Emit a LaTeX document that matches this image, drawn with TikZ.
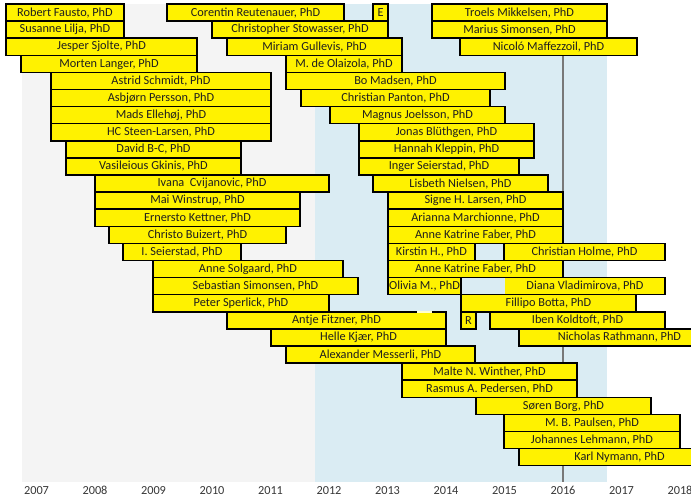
\documentclass[tikz,border=0pt]{standalone}
\usepackage{fontspec}
\setmainfont[Numbers=Lining]{Carlito}
\definecolor{periodgray}{RGB}{244,244,244}
\definecolor{periodblue}{RGB}{218,236,243}
\definecolor{bartext}{RGB}{30,30,30}
\definecolor{yeartext}{RGB}{55,55,55}
\definecolor{markline}{RGB}{120,120,120}
\definecolor{borderpale}{RGB}{255,255,205}
\tikzset{
  phd/.style={draw=black, fill=yellow, line width=1.5pt, inner sep=0pt, outer sep=0pt,
    minimum height=17.1pt, anchor=west, text=bartext,
    font=\fontsize{12.3}{14}\selectfont},
  phdframe/.style={draw=black, line width=1.5pt},
  year/.style={text=yeartext, font=\fontsize{12.3}{14}\selectfont, inner sep=0pt, anchor=base}
}
% \phdbar{name}{row}{left x}{right x}{label}
\newcommand\phdbar[5]{%
  \node[phd, minimum width={(#4-#3)*1pt}] (#1) at ({#3},{4+(#2-0.5)*17.1}) {#5};}
\begin{document}
\begin{tikzpicture}[x=1pt,y=-1pt]
\useasboundingbox (0,0) rectangle (691,499);
\clip (0,0) rectangle (691,499);
\fill[white] (0,0) rectangle (691,499);
% shaded periods
\fill[periodgray] (22,4) rectangle (315,482);
\fill[periodblue] (315,4) rectangle (607,482);
% 2016 marker
\draw[markline, line width=1.4pt] (563,56) -- (563,482);

% row 1
\phdbar{fausto}{1}{6}{124}{Robert Fausto, PhD}
\phdbar{reutenauer}{1}{167}{344}{Corentin Reutenauer, PhD}
\phdbar{e}{1}{373}{388}{E}
\phdbar{mikkelsen}{1}{432}{607}{Troels Mikkelsen, PhD}
% row 2
\phdbar{lilja}{2}{6}{124}{Susanne Lilja, PhD}
\phdbar{stowasser}{2}{212}{388}{Christopher Stowasser, PhD}
\phdbar{msimonsen}{2}{432}{607}{Marius Simonsen, PhD}
% row 3
\phdbar{sjolte}{3}{6}{197}{Jesper Sjolte, PhD}
\phdbar{gullevis}{3}{227}{402}{Miriam Gullevis, PhD}
\phdbar{maffezzoil}{3}{460}{637}{Nicoló Maffezzoil, PhD}
% row 4
\phdbar{langer}{4}{21}{197}{Morten Langer, PhD}
\phdbar{olaizola}{4}{286}{402}{M. de Olaizola, PhD}
% row 5
\phdbar{schmidt}{5}{51}{271}{Astrid Schmidt, PhD}
\phdbar{madsen}{5}{286}{505}{Bo Madsen, PhD}
% row 6
\phdbar{persson}{6}{51}{271}{Asbjørn Persson, PhD}
\phdbar{panton}{6}{301}{490}{Christian Panton, PhD}
% row 7
\phdbar{ellehoj}{7}{51}{271}{Mads Ellehøj, PhD}
\phdbar{joelsson}{7}{330}{505}{Magnus Joelsson, PhD}
% row 8
\phdbar{steenlarsen}{8}{51}{271}{HC Steen-Larsen, PhD}
\phdbar{bluthgen}{8}{359}{534}{Jonas Blüthgen, PhD}
% row 9
\phdbar{bc}{9}{66}{241}{David B-C, PhD}
\phdbar{kleppin}{9}{359}{534}{Hannah Kleppin, PhD}
% row 10
\phdbar{gkinis}{10}{66}{241}{Vasileious Gkinis, PhD}
\phdbar{ingerseierstad}{10}{359}{519}{Inger Seierstad, PhD}
% row 11
\phdbar{cvijanovic}{11}{95}{329}{Ivana\ \ Cvijanovic, PhD}
\phdbar{lnielsen}{11}{373}{548}{Lisbeth Nielsen, PhD}
% row 12
\phdbar{winstrup}{12}{95}{300}{Mai Winstrup, PhD}
\phdbar{slarsen}{12}{388}{563}{Signe H. Larsen, PhD}
% row 13
\phdbar{kettner}{13}{95}{300}{Ernersto Kettner, PhD}
\phdbar{marchionne}{13}{388}{563}{Arianna Marchionne, PhD}
% row 14
\phdbar{buizert}{14}{109}{286}{Christo Buizert, PhD}
\phdbar{faber}{14}{388}{563}{Anne Katrine Faber, PhD}
% row 15
\phdbar{iseierstad}{15}{123}{241}{I. Seierstad, PhD}
\phdbar{kirstin}{15}{388}{475}{Kirstin H., PhD}
\phdbar{holme}{15}{504}{665}{Christian Holme, PhD}
% row 16
\phdbar{solgaard}{16}{153}{343}{Anne Solgaard, PhD}
\phdbar{fabertwo}{16}{388}{563}{Anne Katrine Faber, PhD}
% row 17
\phdbar{ssimonsen}{17}{153}{358}{Sebastian Simonsen, PhD}
\phdbar{olivia}{17}{388}{461}{Olivia M., PhD}
\node[phd, draw=none, minimum width=160pt] (diana) at (505,{4+16.5*17.1}) {Diana Vladimirova, PhD};
\draw[phdframe] (olivia.north east) -- (diana.north east) -- (diana.south east) -- (olivia.south east);
% row 18
\phdbar{sperlick}{18}{153}{329}{Peter Sperlick, PhD}
\phdbar{botta}{18}{461}{636}{Fillipo Botta, PhD}
% row 19
\phdbar{fitzner}{19}{227}{446}{Antje Fitzner, PhD}
\phdbar{r}{19}{461}{476}{R}
\phdbar{koldtoft}{19}{490}{665}{Iben Koldtoft, PhD}
\draw[borderpale, line width=1.5pt] ([xshift=190pt]fitzner.north west) -- ([xshift=205pt]fitzner.north west);
% row 20
\phdbar{kjaer}{20}{271}{446}{Helle Kjær, PhD}
\phdbar{rathmann}{20}{519}{720}{Nicholas Rathmann, PhD}
% row 21
\phdbar{messerli}{21}{286}{475}{Alexander Messerli, PhD}
% rows 22-27
\phdbar{winther}{22}{402}{577}{Malte N. Winther, PhD}
\phdbar{pedersen}{23}{402}{577}{Rasmus A. Pedersen, PhD}
\phdbar{borg}{24}{476}{651}{Søren Borg, PhD}
\phdbar{paulsen}{25}{504}{680}{M. B. Paulsen, PhD}
\phdbar{lehmann}{26}{504}{680}{Johannes Lehmann, PhD}
\phdbar{nymann}{27}{519}{720}{Karl Nymann, PhD}

% year axis
\foreach \yr [count=\i from 0] in {2007,...,2018}
  \node[year] (y\yr) at ({36.5+\i*58.5},494.5) {\yr};
\end{tikzpicture}
\end{document}
